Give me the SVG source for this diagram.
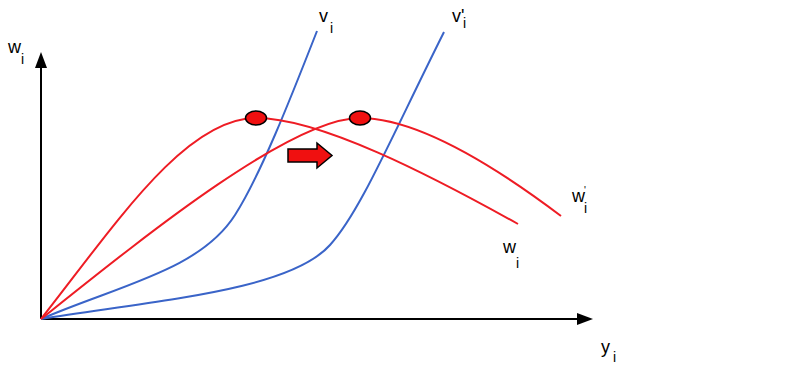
<svg xmlns="http://www.w3.org/2000/svg" width="802" height="367" viewBox="0 0 802 367">
<style>
.ax{stroke:#000;stroke-width:2;fill:none}
.red{stroke:#ee1c24;stroke-width:2;fill:none}
.blue{stroke:#3a64c8;stroke-width:2;fill:none}
.t{font-family:"Liberation Sans",Arial,sans-serif;fill:#000}
.dot{fill:#f01010;stroke:#000;stroke-width:1.5}
</style>
<rect width="802" height="367" fill="#fff"/>
<g id="axes">
<line class="ax" x1="41" y1="319" x2="41" y2="64"/>
<polygon points="41,52 35,68 47,68" fill="#000"/>
<line class="ax" x1="41" y1="319" x2="580" y2="319"/>
<polygon points="593,319 577,313 577,325" fill="#000"/>
</g>
<g id="connectors">
<path id="v_i" class="blue" d="M41,319 C120,285 200,270 235,215 C260,176 290,100 317,31"/>
<path id="v_i_prime" class="blue" d="M41,319 C160,300 290,290 330,245 C360,212 390,140 444,32"/>
<path id="w_i" class="red" d="M41,319 C115,225 185,118 256,118 C320,118 430,175 518,224"/>
<path id="w_i_prime" class="red" d="M41,319 C140,240 290,118 360,118 C420,118 500,170 561,216"/>
</g>
<g id="peak1"><ellipse class="dot" cx="256" cy="118" rx="10.5" ry="7"/></g>
<g id="peak2"><ellipse class="dot" cx="360" cy="118" rx="10.5" ry="7"/></g>
<g id="shift-arrow"><polygon class="dot" points="288,149 317,149 317,143 332,155.5 317,168 317,162 288,162"/></g>
<g id="labels">
<text class="t" x="8" y="53" font-size="18">w</text><text class="t" x="21" y="64" font-size="14">i</text>
<text class="t" x="319" y="22" font-size="18">v</text><text class="t" x="330" y="33" font-size="14">i</text>
<text class="t" x="452" y="22" font-size="18">v'</text><text class="t" x="463" y="28" font-size="14">i</text>
<text class="t" x="503" y="253" font-size="18">w</text><text class="t" x="516" y="268" font-size="14">i</text>
<text class="t" x="572" y="202" font-size="18">w</text><text class="t" x="584" y="194" font-size="10">'</text><text class="t" x="584" y="213" font-size="14">i</text>
<text class="t" x="601" y="353" font-size="18">y</text><text class="t" x="613" y="362" font-size="14">i</text>
</g>
</svg>
